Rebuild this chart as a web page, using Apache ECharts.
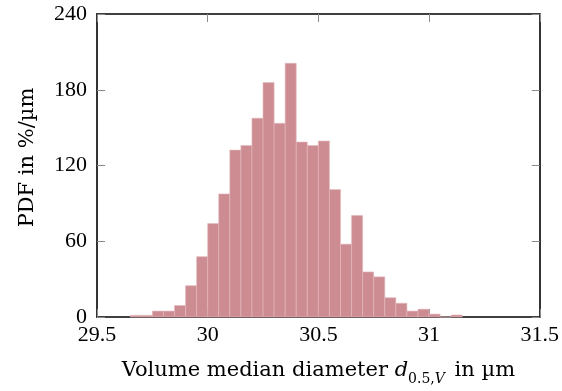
<!DOCTYPE html>
<html>
<head>
<meta charset="utf-8">
<script src="https://cdn.jsdelivr.net/npm/echarts@6/dist/echarts.min.js"></script>
<style>html,body{margin:0;padding:0;background:#fff}#c{width:562px;height:391px}</style>
</head>
<body>
<div id="c"></div>
<script>
const binLeft  = [29.65,29.70,29.75,29.80,29.85,29.90,29.95,30.00,30.05,30.10,30.15,30.20,30.25,30.30,30.35,30.40,30.45,30.50,30.55,30.60,30.65,30.70,30.75,30.80,30.85,30.90,30.95,31.00,31.05,31.10];
const binRight = [29.70,29.75,29.80,29.85,29.90,29.95,30.00,30.05,30.10,30.15,30.20,30.25,30.30,30.35,30.40,30.45,30.50,30.55,30.60,30.65,30.70,30.75,30.80,30.85,30.90,30.95,31.00,31.05,31.10,31.15];
const pdfValues = [1.3,1.3,4.7,4.7,9.1,24.8,47.8,74.0,97.5,132.2,135.8,157.5,185.7,153.4,200.9,138.6,135.8,139.4,100.9,57.7,80.4,35.7,31.8,15.3,10.9,4.7,6.2,2.3,0,1.6];
const xTicks = [29.5, 30, 30.5, 31, 31.5];
const yTicks = [0, 60, 120, 180, 240];

const FONT = 'Liberation Serif';
const TFONT = 'DejaVu Serif';
const chart = echarts.init(document.getElementById('c'), null, {renderer:'canvas'});
const data = binLeft.map((l,i)=>[l, binRight[i], pdfValues[i]]);
const tickStyle = {show:true, inside:true, length:8, lineStyle:{color:'#8a8a8a', width:1}};
const lineStyle = {show:true, onZero:false, lineStyle:{color:'#000', width:1.6}};
chart.setOption({
  animation:false,
  backgroundColor:'#fff',
  grid:{left:97, right:22, top:14, bottom:68},
  xAxis:[{
    type:'value', min:xTicks[0], max:xTicks[xTicks.length-1], interval:0.5,
    axisLine:lineStyle, axisTick:tickStyle, splitLine:{show:false},
    axisLabel:{fontFamily:FONT, fontSize:22, color:'#000', margin:7},
    name:'{a|Volume median diameter }{i|d}{s|0.5,}{si|V}{a| in µm}',
    nameLocation:'middle', nameGap:43,
    nameTextStyle:{fontFamily:TFONT, fontSize:21, color:'#000',
      rich:{a:{fontFamily:TFONT,fontSize:21,color:'#000',verticalAlign:'bottom'},
            i:{fontFamily:TFONT,fontSize:21,fontStyle:'italic',color:'#000',verticalAlign:'bottom'},
            s:{fontFamily:TFONT,fontSize:14,color:'#000',verticalAlign:'bottom',padding:[0,0,-5,0]},
            si:{fontFamily:TFONT,fontSize:14,fontStyle:'italic',color:'#000',verticalAlign:'bottom',padding:[0,3,-5,0]}}}
  },{
    type:'value', position:'top', min:xTicks[0], max:xTicks[xTicks.length-1], interval:0.5,
    axisLine:lineStyle, axisTick:tickStyle, axisLabel:{show:false}, splitLine:{show:false}
  }],
  yAxis:[{
    type:'value', min:yTicks[0], max:yTicks[yTicks.length-1], interval:60,
    axisLine:lineStyle, axisTick:tickStyle, splitLine:{show:false},
    axisLabel:{fontFamily:FONT, fontSize:22, color:'#000', margin:10},
    name:'PDF in %/µm', nameLocation:'middle', nameGap:59,
    nameTextStyle:{fontFamily:TFONT, fontSize:21, color:'#000', padding:[0,0,0,16]}
  },{
    type:'value', position:'right', min:yTicks[0], max:yTicks[yTicks.length-1], interval:60,
    axisLine:lineStyle, axisTick:tickStyle, axisLabel:{show:false}, splitLine:{show:false}
  }],
  series:[{
    type:'custom',
    xAxisIndex:0, yAxisIndex:0,
    data:data,
    renderItem:function(params, api){
      const p0 = api.coord([api.value(0), 0]);
      const p1 = api.coord([api.value(1), api.value(2)]);
      return {type:'rect', shape:{x:p0[0], y:p1[1], width:p1[0]-p0[0], height:p0[1]-p1[1]},
        style:{fill:'#cd8c92', stroke:'#e4b9bd', lineWidth:0.6}};
    },
    encode:{x:[0,1], y:2},
    z:1
  }]
});
</script>
</body>
</html>
